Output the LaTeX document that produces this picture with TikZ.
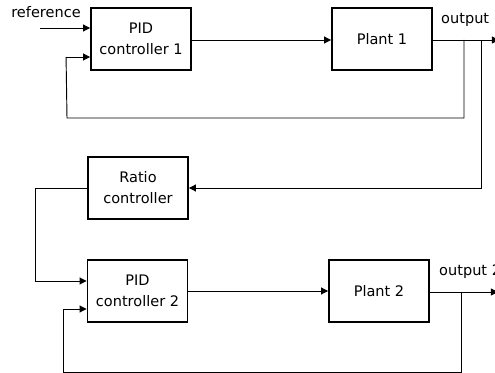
\documentclass[tikz,border=0pt]{standalone}
\usepackage{fontspec}
\setmainfont{DejaVu Sans}
\usetikzlibrary{arrows.meta,calc}
\tikzstyle{block}=[rectangle,draw,line width=1.6pt,minimum width=3cm,minimum height=1.86cm,align=center,inner sep=0pt,font=\fontsize{12.4}{18}\selectfont]
\tikzstyle{edge} = [draw,line width=0.8pt,-{Triangle[length=6pt,width=6pt]}]
\tikzstyle{undirectededge} = [draw,line width=0.8pt]
\tikzstyle{weight} = [font=\fontsize{12.4}{14}\selectfont,inner sep=0pt]

\begin{document}
\begin{tikzpicture}[x=0.03cm,y=-0.03cm]
   \useasboundingbox (0,0) rectangle (495,373);
   \clip (0,0) rectangle (495,373);

   % offsets of the two inputs on a controller
   \def\up{10};
   \def\dn{18};

%blocks
    \foreach \pos/\name/\label in {{(141,39)/pid1/{PID\\controller 1}}, {(382,39)/plant1/{Plant 1}}, {(138,188)/ratio/{Ratio\\controller}}, {(137.5,291)/pid2/{PID\\controller 2}}, {(379,291)/plant2/{Plant 2}}}
        \node[block] (\name) at \pos {\label};

%free ends and branch points
    \coordinate (refin) at (40,28);
    \coordinate (out1) at (499,40);
    \coordinate (out2) at (498,292);
    \coordinate (b1) at (464,40);
    \coordinate (b2) at (481,40);
    \coordinate (b3) at (461,292);
    \coordinate (fb1) at (67,118);
    \coordinate (fb2) at (63,372);
    \coordinate (rt) at (35,188);

% Label
   \node[weight] (lref) at (46,12) {reference};
   \node[weight,anchor=west] (lout1) at (441,20) {output 1};
   \node[weight,anchor=west] (lout2) at (439,272) {output 2};

%loop 1
    \path[edge] (refin) -- (pid1.west |- refin);
    \path[edge] (pid1.east |- b1) -- (plant1.west |- b1);
    \path[edge] (plant1.east |- b1) -- (out1);
    \path[undirectededge] (b1) -- (b1 |- fb1) -- (fb1) -- ($(pid1.west)+(-24,\dn)$);
    \path[edge] ($(pid1.west)+(-24,\dn)$) -- ($(pid1.west)+(0,\dn)$);

%ratio
    \path[edge] (b2) -- (b2 |- ratio.east) -- (ratio.east);
    \path[undirectededge] (ratio.west) -- (rt);
    \path[edge] (rt) |- ($(pid2.west)+(0,-\up)$);

%loop 2
    \path[edge] (pid2.east) -- (plant2.west);
    \path[edge] (plant2.east |- b3) -- (out2);
    \path[edge] (b3) -- (b3 |- fb2) -- (fb2) |- ($(pid2.west)+(0,\dn)$);

\end{tikzpicture}
\end{document}
